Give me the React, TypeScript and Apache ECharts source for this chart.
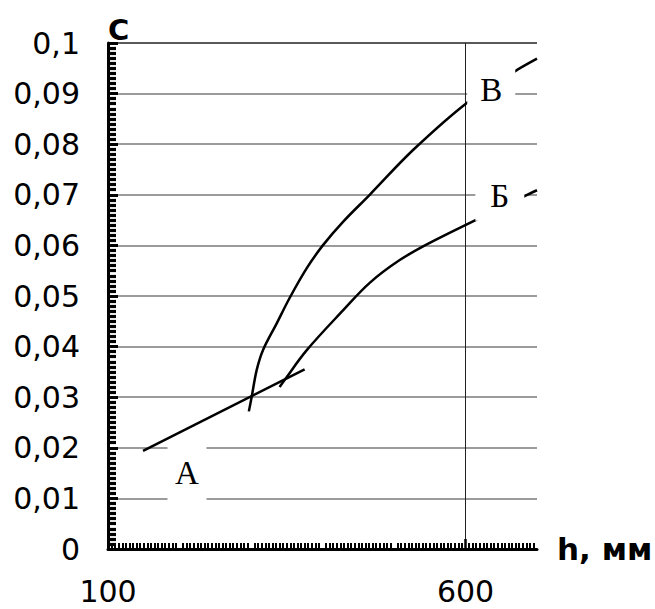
import React, { useEffect, useRef } from 'react';
import * as echarts from 'echarts';

// x axis (h, мм) labelled values
const hLabelValues = [100, 600];

// Line А (straight)
const lineA_h = [149, 375];
const lineA_c = [0.0194, 0.0355];

// Curve В
const curveV_h = [297, 301, 308, 317, 336, 354, 378, 401, 429, 466, 527, 604, 669, 700];
const curveV_c = [0.0272, 0.0301, 0.0354, 0.0394, 0.0446, 0.0496, 0.0555, 0.0601, 0.0647, 0.07, 0.0789, 0.0884, 0.0944, 0.0969];

// Curve Б
const curveB_h = [340, 347, 378, 429, 466, 508, 550, 614, 682, 700];
const curveB_c = [0.032, 0.0334, 0.0393, 0.0472, 0.0526, 0.0571, 0.0605, 0.065, 0.0697, 0.0709];

// Curve labels
const curveNames = ['А', 'В', 'Б'];
const curveNameH = [210.5, 636, 648];
const curveNameC = [0.01505, 0.0908, 0.0698];

const zip = (xs: number[], ys: number[]) => xs.map((x, i) => [x, ys[i]]);

export default function App() {
  const ref = useRef<HTMLDivElement>(null);
  useEffect(() => {
    if (!ref.current) return;
    const chart = echarts.init(ref.current, null, { renderer: 'svg' });
    const boxW = [39, 48, 49];
    const boxH = [62, 48, 50];
    const gridColors = ['#7a7a7a', '#7a7a7a', '#7a7a7a', '#7a7a7a', '#7a7a7a', '#7a7a7a', '#7a7a7a', '#7a7a7a', '#7a7a7a', '#7a7a7a', '#222'];
    const curveLine = { color: '#000', width: 2.5 };
    chart.setOption({
      animation: false,
      backgroundColor: '#fff',
      grid: { left: 108, right: 118, top: 43, bottom: 60, containLabel: false, outerBoundsMode: 'none' },
      xAxis: {
        type: 'value',
        min: 100,
        max: 700,
        interval: 100,
        name: 'h, мм',
        nameLocation: 'end',
        nameGap: 20,
        nameTextStyle: { fontFamily: 'DejaVu Sans', fontWeight: 'bold', fontSize: 31, color: '#000', align: 'left', verticalAlign: 'middle' },
        axisLine: { show: true, onZero: false, lineStyle: { color: '#000', width: 3 } },
        axisTick: { show: true, inside: true, length: 10, customValues: hLabelValues, lineStyle: { color: '#000', width: 2.5 } },
        minorTick: { show: true, splitNumber: 20, length: 6, lineStyle: { color: '#000', width: 2 } },
        axisLabel: {
          customValues: hLabelValues,
          margin: 27,
          fontFamily: 'DejaVu Sans',
          fontSize: 30,
          color: '#000',
        },
        splitLine: { show: true, lineStyle: { color: '#222', width: 1 } },
      },
      yAxis: {
        type: 'value',
        min: 0,
        max: 0.1,
        interval: 0.01,
        name: 'C',
        nameLocation: 'end',
        nameGap: 13,
        nameTextStyle: { fontFamily: 'DejaVu Sans', fontWeight: 'bold', fontSize: 29, color: '#000', align: 'left', verticalAlign: 'middle' },
        axisLine: { show: true, lineStyle: { color: '#000', width: 3 } },
        axisTick: { show: true, inside: true, length: 10, lineStyle: { color: '#000', width: 3 } },
        minorTick: { show: true, splitNumber: 10, length: 8, lineStyle: { color: '#000', width: 3.2 } },
        axisLabel: {
          margin: 28,
          fontFamily: 'DejaVu Sans',
          fontSize: 30,
          color: '#000',
          formatter: (v: number) => String(+v.toFixed(3)).replace('.', ','),
        },
        splitLine: { show: true, lineStyle: { color: gridColors, width: 1.5 } },
      },
      series: [
        { type: 'line', name: 'А', data: zip(lineA_h, lineA_c), symbol: 'none', lineStyle: curveLine, z: 3, silent: true },
        { type: 'line', name: 'В', data: zip(curveV_h, curveV_c), symbol: 'none', smooth: 0.35, lineStyle: curveLine, z: 3, silent: true },
        { type: 'line', name: 'Б', data: zip(curveB_h, curveB_c), symbol: 'none', smooth: 0.35, lineStyle: curveLine, z: 3, silent: true },
        {
          type: 'scatter',
          symbol: 'rect',
          symbolSize: 1,
          z: 10,
          silent: true,
          itemStyle: { color: 'rgba(255,255,255,0)', opacity: 1 },
          label: {
            show: true,
            position: 'inside',
            formatter: '{b}',
            color: '#000',
            opacity: 1,
            fontFamily: 'Liberation Serif',
            fontSize: 33,
            backgroundColor: '#fff',
            align: 'center',
            verticalAlign: 'middle',
            padding: 0,
          },
          labelLayout: { hideOverlap: false },
          data: curveNames.map((n, i) => ({
            name: n,
            value: [curveNameH[i], curveNameC[i]],
            label: { width: boxW[i], height: boxH[i], lineHeight: boxH[i] },
          })),
        },
      ],
    });
    return () => chart.dispose();
  }, []);
  return <div ref={ref} style={{ position: 'absolute', left: 0, top: 0, width: 655, height: 609 }} />;
}
